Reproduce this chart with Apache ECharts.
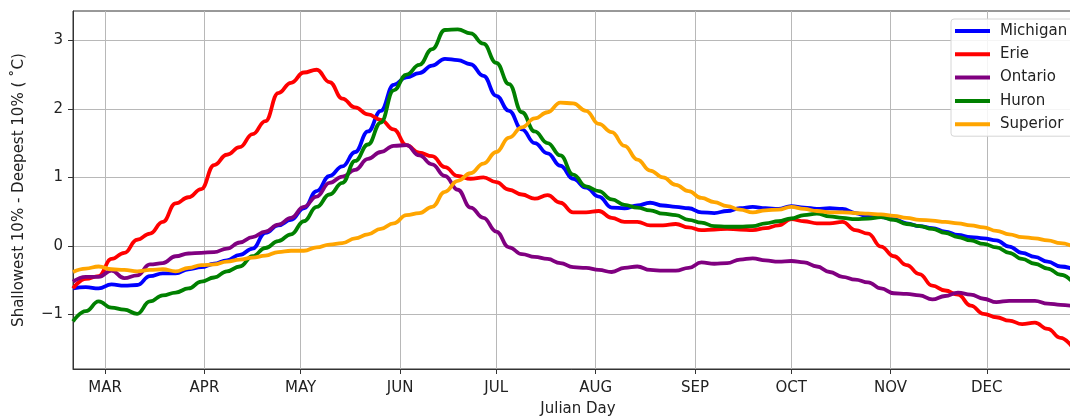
<!DOCTYPE html>
<html>
<head>
<meta charset="utf-8">
<script src="https://cdn.jsdelivr.net/npm/echarts@6/dist/echarts.min.js"></script>
<style>
  html, body { margin: 0; padding: 0; background: #fff; }
  #chart { width: 1070px; height: 417px; }
</style>
</head>
<body>
<div id="chart"></div>
<script>
// Julian day sample points (every 4 days)
const days = [50,54,58,62,66,70,74,78,82,86,90,94,98,102,106,110,114,118,122,126,130,134,138,142,146,150,154,158,162,166,170,174,178,182,186,190,194,198,202,206,210,214,218,222,226,230,234,238,242,246,250,254,258,262,266,270,274,278,282,286,290,294,298,302,306,310,314,318,322,326,330,334,338,342,346,350,354,358,362];

// Shallowest 10% minus deepest 10% temperature, per lake (°C)
const michigan = [-0.62,-0.60,-0.62,-0.56,-0.58,-0.57,-0.44,-0.40,-0.40,-0.34,-0.31,-0.26,-0.21,-0.13,-0.04,0.19,0.30,0.38,0.55,0.80,1.02,1.16,1.37,1.67,1.97,2.35,2.46,2.52,2.63,2.73,2.71,2.65,2.48,2.19,1.97,1.70,1.50,1.35,1.17,0.98,0.85,0.72,0.56,0.55,0.59,0.63,0.59,0.57,0.55,0.49,0.48,0.51,0.55,0.57,0.55,0.54,0.58,0.56,0.54,0.55,0.54,0.48,0.43,0.42,0.39,0.33,0.29,0.26,0.21,0.16,0.13,0.11,0.08,-0.01,-0.10,-0.16,-0.23,-0.30,-0.34];
const erie = [-0.62,-0.48,-0.44,-0.19,-0.10,0.09,0.18,0.35,0.62,0.71,0.83,1.18,1.33,1.44,1.63,1.82,2.23,2.38,2.53,2.57,2.39,2.15,2.02,1.92,1.84,1.70,1.47,1.36,1.31,1.15,1.02,0.98,1.00,0.93,0.82,0.75,0.69,0.74,0.63,0.49,0.49,0.51,0.41,0.35,0.35,0.30,0.30,0.32,0.27,0.23,0.24,0.25,0.24,0.23,0.26,0.30,0.39,0.36,0.33,0.33,0.35,0.23,0.18,-0.01,-0.15,-0.28,-0.41,-0.58,-0.65,-0.71,-0.87,-0.99,-1.04,-1.09,-1.14,-1.12,-1.21,-1.34,-1.50];
const ontario = [-0.52,-0.45,-0.45,-0.36,-0.47,-0.43,-0.27,-0.25,-0.15,-0.11,-0.10,-0.09,-0.04,0.05,0.13,0.21,0.31,0.41,0.57,0.72,0.92,1.01,1.11,1.27,1.37,1.46,1.47,1.32,1.19,1.02,0.82,0.56,0.41,0.21,-0.02,-0.12,-0.16,-0.19,-0.25,-0.31,-0.32,-0.35,-0.38,-0.32,-0.30,-0.35,-0.36,-0.36,-0.32,-0.24,-0.26,-0.25,-0.20,-0.18,-0.21,-0.23,-0.22,-0.24,-0.30,-0.38,-0.45,-0.49,-0.53,-0.62,-0.69,-0.70,-0.72,-0.78,-0.73,-0.68,-0.71,-0.77,-0.82,-0.80,-0.80,-0.80,-0.84,-0.86,-0.88];
const huron = [-1.10,-0.95,-0.81,-0.90,-0.93,-0.99,-0.81,-0.72,-0.68,-0.62,-0.52,-0.46,-0.37,-0.30,-0.15,-0.03,0.07,0.17,0.36,0.57,0.75,0.92,1.24,1.48,1.80,2.27,2.50,2.64,2.87,3.15,3.16,3.10,2.95,2.67,2.36,1.95,1.67,1.50,1.32,1.04,0.87,0.80,0.68,0.60,0.56,0.52,0.47,0.45,0.38,0.34,0.29,0.28,0.28,0.29,0.33,0.36,0.40,0.45,0.47,0.43,0.41,0.39,0.40,0.42,0.38,0.32,0.29,0.25,0.19,0.13,0.08,0.03,-0.02,-0.10,-0.19,-0.26,-0.33,-0.42,-0.54];
const superior = [-0.38,-0.33,-0.30,-0.34,-0.35,-0.37,-0.35,-0.34,-0.37,-0.32,-0.28,-0.27,-0.23,-0.20,-0.17,-0.14,-0.09,-0.07,-0.07,-0.02,0.02,0.04,0.11,0.17,0.25,0.33,0.45,0.48,0.57,0.79,0.95,1.06,1.20,1.37,1.58,1.73,1.86,1.95,2.09,2.08,1.97,1.78,1.66,1.46,1.26,1.10,1.00,0.89,0.80,0.70,0.64,0.58,0.53,0.49,0.52,0.53,0.57,0.54,0.51,0.49,0.49,0.48,0.47,0.46,0.44,0.41,0.38,0.37,0.35,0.33,0.30,0.27,0.22,0.17,0.13,0.11,0.08,0.04,-0.01];

// Month-start days used as x ticks, with their labels
const monthDays = [60, 91, 121, 152, 182, 213, 244, 274, 305, 335];
const monthLabels = ['MAR','APR','MAY','JUN','JUL','AUG','SEP','OCT','NOV','DEC'];
const yTicks = [-1, 0, 1, 2, 3];

const lakes = [
  { name: 'Michigan', values: michigan, color: '#0000ff' },
  { name: 'Erie', values: erie, color: '#ff0000' },
  { name: 'Ontario', values: ontario, color: '#800080' },
  { name: 'Huron', values: huron, color: '#008000' },
  { name: 'Superior', values: superior, color: '#ffa500' }
];

const FONT = 'DejaVu Sans';
const FS = 15;
const chart = echarts.init(document.getElementById('chart'), null, { renderer: 'canvas' });

chart.setOption({
  animation: false,
  backgroundColor: '#ffffff',
  textStyle: { fontFamily: FONT },
  grid: {
    left: 73, top: 11, bottom: 48, right: -13,
    outerBoundsMode: 'none',
    show: true, borderColor: '#333', borderWidth: 1, backgroundColor: 'transparent',
    containLabel: false
  },
  legend: {
    left: 951, top: 19, orient: 'vertical',
    icon: 'rect', itemWidth: 35, itemHeight: 4, itemGap: 7.3,
    padding: [4, 12, 4, 4],
    backgroundColor: 'rgba(255,255,255,0.85)',
    borderColor: '#d6d6d6', borderWidth: 1, borderRadius: 3,
    textStyle: { fontFamily: FONT, fontSize: FS, color: '#222', lineHeight: 16, padding: [0, 0, 0, 5] },
    data: lakes.map(l => l.name)
  },
  xAxis: {
    type: 'value', min: 50, max: 365,
    name: 'Julian Day', nameLocation: 'middle', nameGap: 33,
    nameTextStyle: { fontFamily: FONT, fontSize: FS, color: '#222' },
    axisLine: { show: true, onZero: false, lineStyle: { color: '#333', width: 1 } },
    axisTick: { show: true, length: 5, lineStyle: { color: '#333' }, customValues: monthDays },
    axisLabel: {
      customValues: monthDays, margin: 12,
      fontFamily: FONT, fontSize: FS, color: '#222',
      formatter: v => monthLabels[monthDays.indexOf(Math.round(v))] || ''
    },
    splitLine: { show: true, lineStyle: { color: '#b8b8b8', width: 1 } }
  },
  yAxis: {
    type: 'value', min: -1.795, max: 3.427,
    name: 'Shallowest 10% - Deepest 10% ( \u02DAC)', nameLocation: 'middle', nameGap: 46,
    nameTextStyle: { fontFamily: FONT, fontSize: FS, color: '#222' },
    axisLine: { show: true, lineStyle: { color: '#333', width: 1 } },
    axisTick: { show: true, length: 5, lineStyle: { color: '#333' }, customValues: yTicks },
    axisLabel: {
      customValues: yTicks, margin: 10,
      fontFamily: FONT, fontSize: FS, color: '#222',
      formatter: v => String(Math.round(v)).replace('-', '\u2212')
    },
    splitLine: { show: true, lineStyle: { color: '#b8b8b8', width: 1 } }
  },
  series: lakes.map(l => ({
    name: l.name,
    type: 'line',
    data: days.map((d, i) => [d, l.values[i]]),
    showSymbol: false,
    smooth: 0.45,
    smoothMonotone: 'x',
    lineStyle: { color: l.color, width: 3.8 },
    itemStyle: { color: l.color },
    emphasis: { disabled: true }
  }))
});
</script>
</body>
</html>
